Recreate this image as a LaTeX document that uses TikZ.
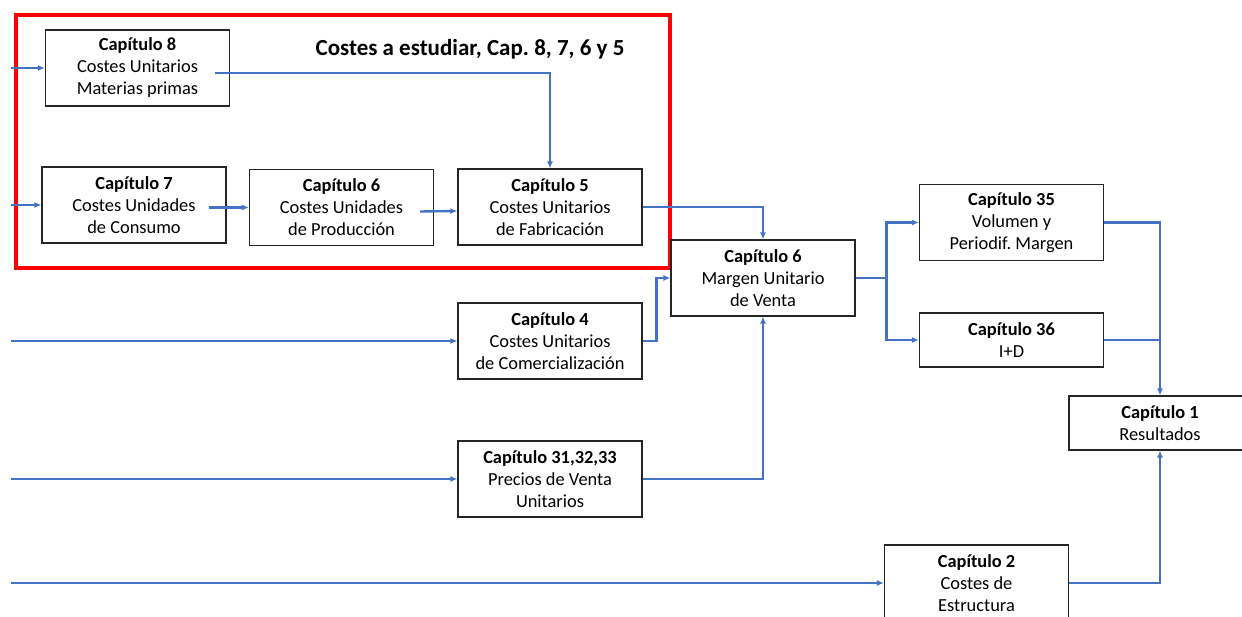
\documentclass[tikz,border=0pt]{standalone}
\usepackage{fontspec}
\setmainfont{Carlito}
\usepackage{tikz}
\usetikzlibrary{arrows.meta,positioning,calc}
\definecolor{flecha}{HTML}{4472C4}
\frenchspacing

\begin{document}
\begin{tikzpicture}[x=1pt,y=-1pt,
    caja/.style={rectangle,draw=black!85,line width=1.2pt,fill=white,
      minimum width=184pt,minimum height=76pt,align=center,inner sep=0pt,
      font=\fontsize{18.4}{22}\selectfont},
    flow/.style={draw=flecha,line width=2.4pt,-{Latex[length=7pt,width=6pt]}},
    linea/.style={draw=flecha,line width=2.4pt}]
  \useasboundingbox (0,0) rectangle (1242,617);

  % zona de costes a estudiar
  \draw[red,line width=3.2pt] (16,15) rectangle (670,268);
  \node[font=\fontsize{23}{27}\selectfont\bfseries] (titulo) at (470,49)
    {Costes a estudiar, Cap. 8, 7, 6 y 5};

  \node[caja] (c8) at (137.5,68) {\textbf{Capítulo 8}\\Costes Unitarios\\Materias primas};
  \node[caja] (c7) at (134,205) {\textbf{Capítulo 7}\\Costes Unidades\\de Consumo};
  \node[caja] (c6p) at (341.5,207.5) {\textbf{Capítulo 6}\\Costes Unidades\\de Producción};
  \node[caja] (c5) at (550,207) {\textbf{Capítulo 5}\\Costes Unitarios\\de Fabricación};
  \node[caja] (marg) at (763,278) {\textbf{Capítulo 6}\\Margen Unitario\\de Venta};
  \node[caja] (c4) at (550,341) {\textbf{Capítulo 4}\\Costes Unitarios\\de Comercialización};
  \node[caja] (c31) at (550,479) {\textbf{Capítulo 31,32,33}\\Precios de Venta\\Unitarios};
  \node[caja] (c35) at (1011.5,222.5) {\textbf{Capítulo 35}\\Volumen y\\Periodif. Margen};
  \node[caja,minimum height=54pt] (c36) at (1011.5,340) {\textbf{Capítulo 36}\\I+D};
  \node[caja,minimum width=182pt,minimum height=54pt] (c1) at (1160,423) {\textbf{Capítulo 1}\\Resultados};
  \node[caja] (c2) at (976.5,583) {\textbf{Capítulo 2}\\Costes de\\Estructura};

  % entradas por la izquierda
  \coordinate (lado) at (11,0);
  \foreach \n in {c8,c7,c4,c31,c2}{
    \draw[flow] (\n.west -| lado) -- (\n.west);
  }

  \draw[flow] ([xshift=-15pt,yshift=-5pt]c8.east) -| (c5.north);
  \draw[flow] ([xshift=-18pt]c7.east |- c6p.west) -- (c6p.west);
  \draw[flow] ([xshift=-14pt,yshift=-4pt]c6p.east) -- ([yshift=-4pt]c5.west);
  \draw[flow] (c5.east) -| (marg.north);
  \draw[flow] (c4.east) -- ++(14,0) |- (marg.west);
  \draw[flow] (c31.east) -| (marg.south);

  \draw[linea] (marg.east) -- ++(31,0) coordinate (rama);
  \draw[flow] (rama) |- (c35.west);
  \draw[flow] (rama) |- (c36.west);

  \draw[flow] (c35.east) -| (c1.north);
  \draw[linea] (c36.east) -- (c36.east -| c1.north);
  \draw[flow] (c2.east) -| (c1.south);
\end{tikzpicture}
\end{document}
